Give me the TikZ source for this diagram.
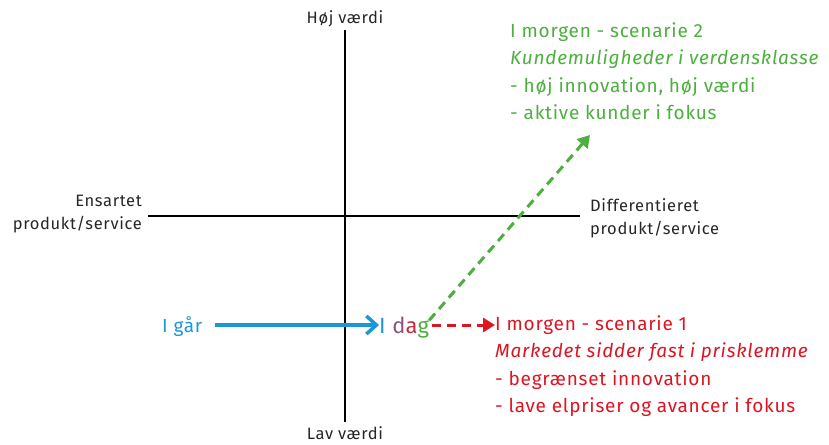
\documentclass[tikz,border=0pt]{standalone}
\usepackage{fontspec}
\setmainfont{Fira Sans}[LetterSpace=4]
\usetikzlibrary{arrows.meta}
\definecolor{gblue}{RGB}{27,150,214}
\definecolor{ggreen}{RGB}{76,175,62}
\definecolor{gred}{RGB}{222,20,34}
\definecolor{dpurp}{RGB}{140,80,130}
\definecolor{dred}{RGB}{190,50,60}
\begin{document}
\begin{tikzpicture}[x=1pt,y=-1pt,
  axis/.style={line width=2.6pt,black},
  lbl/.style={font=\fontsize{16.5}{23}\selectfont,text=black!85,inner sep=0pt,align=left},
  big/.style={font=\fontsize{19}{27.5}\selectfont,inner sep=0pt,align=left},
  dasharr/.style={line width=3pt,dash pattern=on 9pt off 6pt,-{Triangle[length=12pt,width=14pt]}}]
\useasboundingbox (0,0) rectangle (829,444);
% axes
\coordinate (vt) at (345,30);
\coordinate (vb) at (345,422);
\coordinate (hl) at (148,216);
\coordinate (hr) at (580,216);
\draw[axis] (vt) -- (vb);
\draw[axis] (hl) -- (hr);
\node[lbl,anchor=base] (hoj) at (345,24) {Høj værdi};
\node[lbl,anchor=base] (lav) at (345,439) {Lav værdi};
\node[lbl,align=right,anchor=east] (ens) at (142,214) {Ensartet\\produkt/service};
\node[lbl,anchor=west] (diff) at (590,218) {Differentieret\\produkt/service};
% I gaar / I dag
\node[big,text=gblue,anchor=base west] (igar) at (162,332) {I går};
\node[big,anchor=base west,font=\fontsize{22}{25}\selectfont] (idag) at (379,333) {\textcolor{gblue}{I} \textcolor{dpurp}{d}\textcolor{dred}{a}\textcolor{ggreen}{g}};
\draw[gblue,line width=3.5pt,-{Straight Barb[length=10pt,width=18pt,line width=3.5pt]}] (igar.east |- 0,325) ++(12,0) -- (idag.west |- 0,325);
% scenario 1
\node[big,text=gred,anchor=north west] (s1) at (495,315) {I morgen - scenarie 1\\\textit{Markedet sidder fast i prisklemme}\\- begrænset innovation\\- lave elpriser og avancer i fokus};
\draw[gred,dasharr] (idag.east |- 0,325) ++(3,0) -- (s1.west |- 0,325);
% scenario 2
\node[big,text=ggreen,anchor=north west] (s2) at (510,22) {I morgen - scenarie 2\\\textit{Kundemuligheder i verdensklasse}\\- høj innovation, høj værdi\\- aktive kunder i fokus};
\coordinate (s2arr) at (590,135);
\draw[ggreen,dasharr] (idag.north east) ++(0,4) -- (s2arr);
\end{tikzpicture}
\end{document}
